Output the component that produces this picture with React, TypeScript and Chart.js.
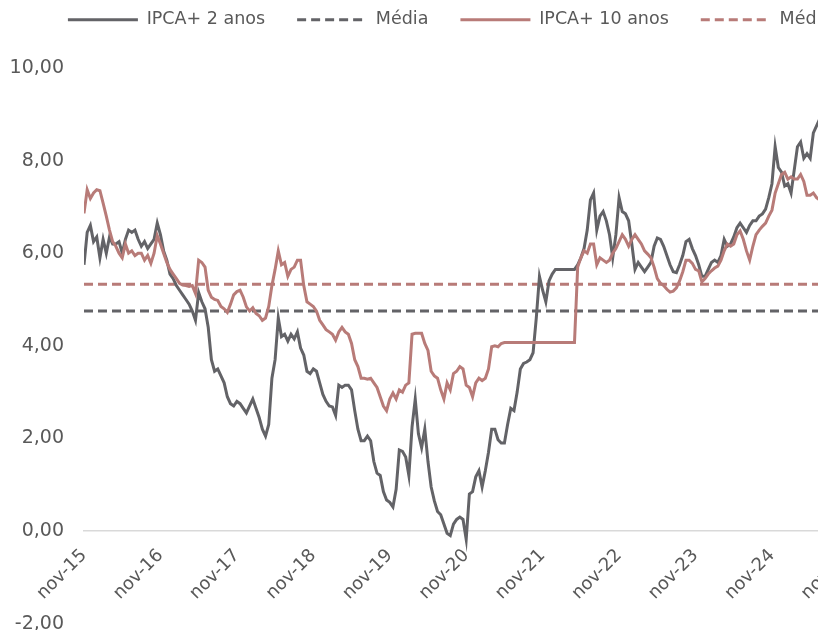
import React, { useEffect, useRef } from 'react';
import { Chart, registerables } from 'chart.js';

Chart.register(...registerables);

// Readings every half month, first reading at nov-15
const MONTH_STEP = 0.5;
const X_MAX_MONTHS = 128.1;
const X_TICK_LABELS = ['nov-15', 'nov-16', 'nov-17', 'nov-18', 'nov-19', 'nov-20', 'nov-21', 'nov-22', 'nov-23', 'nov-24', 'nov-25'];
const Y_MIN = -2;
const Y_MAX = 10;
const Y_STEP = 2;
const SERIES_LABELS = ['IPCA+ 2 anos', 'Média', 'IPCA+ 10 anos', 'Média'];

const IPCA_2 = [
  5.75, 6.45, 6.6, 6.25, 6.35, 5.9, 6.3, 6.0, 6.35, 6.2,
  6.2, 6.25, 6.0, 6.3, 6.5, 6.45, 6.5, 6.3, 6.15, 6.25,
  6.1, 6.2, 6.3, 6.65, 6.4, 6.05, 5.85, 5.55, 5.45, 5.3,
  5.2, 5.1, 5.0, 4.9, 4.75, 4.55, 5.15, 4.95, 4.8, 4.4,
  3.7, 3.45, 3.5, 3.35, 3.2, 2.9, 2.75, 2.7, 2.8, 2.75,
  2.65, 2.55, 2.7, 2.85, 2.65, 2.45, 2.2, 2.05, 2.3, 3.3,
  3.7, 4.6, 4.2, 4.25, 4.1, 4.25, 4.15, 4.3, 3.95, 3.8,
  3.45, 3.4, 3.5, 3.45, 3.2, 2.95, 2.8, 2.7, 2.68, 2.5,
  3.15, 3.1, 3.15, 3.15, 3.05, 2.6, 2.2, 1.95, 1.95, 2.05,
  1.95, 1.5, 1.25, 1.2, 0.85, 0.67, 0.62, 0.52, 0.9, 1.75,
  1.72, 1.6, 1.2, 2.25, 2.85, 2.1, 1.8, 2.2, 1.5, 0.95,
  0.65, 0.42, 0.35, 0.15, -0.05, -0.1, 0.15, 0.25, 0.3, 0.25,
  -0.18, 0.8, 0.85, 1.17, 1.3, 0.95, 1.3, 1.7, 2.2, 2.2,
  1.97, 1.9, 1.9, 2.3, 2.65, 2.6, 3.0, 3.5, 3.62, 3.65,
  3.7, 3.85, 4.6, 5.5, 5.2, 4.95, 5.4, 5.55, 5.65, 5.65,
  5.65, 5.65, 5.65, 5.65, 5.65, 5.75, 5.9, 6.1, 6.5, 7.15,
  7.3, 6.5, 6.8, 6.9, 6.7, 6.4, 5.9, 6.4, 7.2, 6.9,
  6.85, 6.7, 6.2, 5.65, 5.8, 5.7, 5.6, 5.7, 5.8, 6.15,
  6.33, 6.3, 6.15, 5.95, 5.75, 5.6, 5.58, 5.75, 5.95, 6.25,
  6.3, 6.1, 5.95, 5.75, 5.5, 5.5, 5.65, 5.8, 5.85, 5.8,
  5.95, 6.3, 6.15, 6.2, 6.35, 6.55, 6.65, 6.55, 6.45, 6.6,
  6.7, 6.7, 6.8, 6.85, 6.95, 7.2, 7.5, 8.3, 7.85, 7.75,
  7.45, 7.5, 7.3, 7.8, 8.3, 8.4, 8.05, 8.15, 8.05, 8.6,
  8.75, 8.9,
];

const IPCA_10 = [
  6.86, 7.37, 7.18, 7.3, 7.37, 7.35, 7.08, 6.8, 6.5, 6.25,
  6.15, 6.0, 5.9, 6.2, 6.0, 6.05, 5.95, 6.0, 6.0, 5.85,
  5.95, 5.78, 6.0, 6.38, 6.2, 6.0, 5.8, 5.65, 5.55, 5.45,
  5.35, 5.31, 5.3, 5.28, 5.3, 5.13, 5.85, 5.8, 5.7, 5.2,
  5.05, 5.0, 4.98, 4.85, 4.8, 4.72, 4.9, 5.1, 5.17, 5.2,
  5.05, 4.84, 4.75, 4.82, 4.7, 4.65, 4.55, 4.6, 4.85, 5.3,
  5.65, 6.05, 5.75, 5.8, 5.5, 5.65, 5.7, 5.85, 5.85, 5.3,
  4.95, 4.9, 4.85, 4.75, 4.55, 4.45, 4.35, 4.3, 4.25, 4.12,
  4.3, 4.4, 4.3, 4.25, 4.05, 3.7, 3.55, 3.3, 3.3, 3.28,
  3.3, 3.2, 3.1, 2.9, 2.7, 2.6, 2.85, 2.98, 2.85, 3.05,
  3.0, 3.15, 3.2, 4.25, 4.27, 4.27, 4.27, 4.05, 3.9, 3.45,
  3.35, 3.3, 3.05, 2.85, 3.2, 3.05, 3.4, 3.45, 3.55, 3.5,
  3.15, 3.1, 2.9, 3.2, 3.3, 3.25, 3.3, 3.5, 3.98, 4.0,
  3.98, 4.05, 4.07, 4.07, 4.07, 4.07, 4.07, 4.07, 4.07, 4.07,
  4.07, 4.07, 4.07, 4.07, 4.07, 4.07, 4.07, 4.07, 4.07, 4.07,
  4.07, 4.07, 4.07, 4.07, 4.07, 5.7, 5.9, 6.05, 6.0, 6.2,
  6.2, 5.75, 5.9, 5.85, 5.8, 5.85, 6.0, 6.1, 6.25, 6.4,
  6.3, 6.15, 6.3, 6.4, 6.3, 6.2, 6.05, 5.98, 5.9, 5.7,
  5.45, 5.35, 5.3, 5.22, 5.16, 5.18, 5.25, 5.4, 5.6, 5.85,
  5.85, 5.78, 5.65, 5.62, 5.38, 5.45, 5.55, 5.62, 5.68, 5.72,
  5.85, 6.05, 6.2, 6.15, 6.2, 6.4, 6.48, 6.3, 6.05, 5.85,
  6.15, 6.4, 6.5, 6.58, 6.65, 6.8, 6.93, 7.3, 7.5, 7.7,
  7.75, 7.6, 7.65, 7.6, 7.6, 7.7, 7.55, 7.25, 7.25, 7.3,
  7.2, 7.15,
];

const MEDIA_2 = 4.75;
const MEDIA_10 = 5.33;

const GRAY = '#636367';
const ROSE = '#B87B78';
const TEXT = '#595959';
const AXIS = '#D9D9D9';
const FONT = "'DejaVu Sans', sans-serif";
const LEGEND_BLOCK_HEIGHT = 89;

const toPoints = (arr: number[]) => arr.map((y, i) => ({ x: i * MONTH_STEP, y }));
const flat = (v: number) => [{ x: 0, y: v }, { x: X_MAX_MONTHS, y: v }];

const legendSpacer = {
  id: 'legendSpacer',
  beforeInit(chart: any) {
    const orig = chart.legend.fit;
    chart.legend.fit = function () {
      orig.call(this);
      this.height = LEGEND_BLOCK_HEIGHT;
    };
  },
};

export default function App() {
  const ref = useRef<HTMLCanvasElement | null>(null);

  useEffect(() => {
    if (!ref.current) return;
    const chart = new Chart(ref.current, {
      type: 'line',
      data: {
        datasets: [
          { label: SERIES_LABELS[0], data: toPoints(IPCA_2), borderColor: GRAY, backgroundColor: GRAY, borderWidth: 3, pointRadius: 0, order: 2 },
          { label: SERIES_LABELS[1], data: flat(MEDIA_2), borderColor: GRAY, backgroundColor: GRAY, borderWidth: 3, borderDash: [9, 5], pointRadius: 0, order: 4 },
          { label: SERIES_LABELS[2], data: toPoints(IPCA_10), borderColor: ROSE, backgroundColor: ROSE, borderWidth: 3, pointRadius: 0, order: 1 },
          { label: SERIES_LABELS[3], data: flat(MEDIA_10), borderColor: ROSE, backgroundColor: ROSE, borderWidth: 3, borderDash: [9, 5], pointRadius: 0, order: 3 },
        ],
      },
      plugins: [legendSpacer],
      options: {
        animation: false,
        responsive: false,
        events: [],
        layout: { padding: { left: 0, right: 0, top: 0, bottom: 15.4 } },
        plugins: {
          tooltip: { enabled: false },
          legend: {
            position: 'top',
            align: 'center',
            labels: {
              usePointStyle: true,
              pointStyle: 'line',
              pointStyleWidth: 70,
              padding: 32,
              color: TEXT,
              font: { family: FONT, size: 17.5 },
              generateLabels: (c: any) => {
                const items = (Chart.defaults.plugins.legend.labels as any).generateLabels(c);
                return items.map((it: any) => {
                  const ds: any = c.data.datasets[it.datasetIndex];
                  return {
                    ...it,
                    lineDash: ds.borderDash || [],
                    strokeStyle: ds.borderColor,
                    fillStyle: ds.borderColor,
                    lineWidth: 3,
                  };
                });
              },
              sort: (a: any, b: any) => a.datasetIndex - b.datasetIndex,
            },
          },
        },
        scales: {
          x: {
            type: 'linear',
            min: 0,
            max: X_MAX_MONTHS,
            position: { y: 0 } as any,
            grid: { display: false, drawTicks: false },
            border: { display: true, color: AXIS, width: 1.5 },
            ticks: {
              stepSize: 12,
              autoSkip: false,
              includeBounds: false,
              minRotation: 45,
              maxRotation: 45,
              padding: 14,
              color: TEXT,
              font: { family: FONT, size: 18 },
              callback: (v: any) => X_TICK_LABELS[Math.round(Number(v) / 12)] ?? '',
            },
          },
          y: {
            type: 'linear',
            min: Y_MIN,
            max: Y_MAX,
            grid: { display: false, drawTicks: false },
            border: { display: false },
            ticks: {
              stepSize: Y_STEP,
              padding: 20,
              color: TEXT,
              font: { family: FONT, size: 19 },
              callback: (v: any) => Number(v).toFixed(2).replace('.', ','),
            },
            afterFit: (s: any) => {
              s.width = 84;
              s.paddingTop = 0;
              s.paddingBottom = 0;
            },
          },
        },
      },
    });
    return () => chart.destroy();
  }, []);

  return (
    <div style={{ position: 'absolute', left: 0, top: 0, width: 818, height: 630, overflow: 'hidden', background: '#fff' }}>
      <div style={{ position: 'absolute', left: 0, top: -21, width: 900, height: 660 }}>
        <canvas ref={ref} width={900} height={660} style={{ width: 900, height: 660, display: 'block' }} />
      </div>
    </div>
  );
}
